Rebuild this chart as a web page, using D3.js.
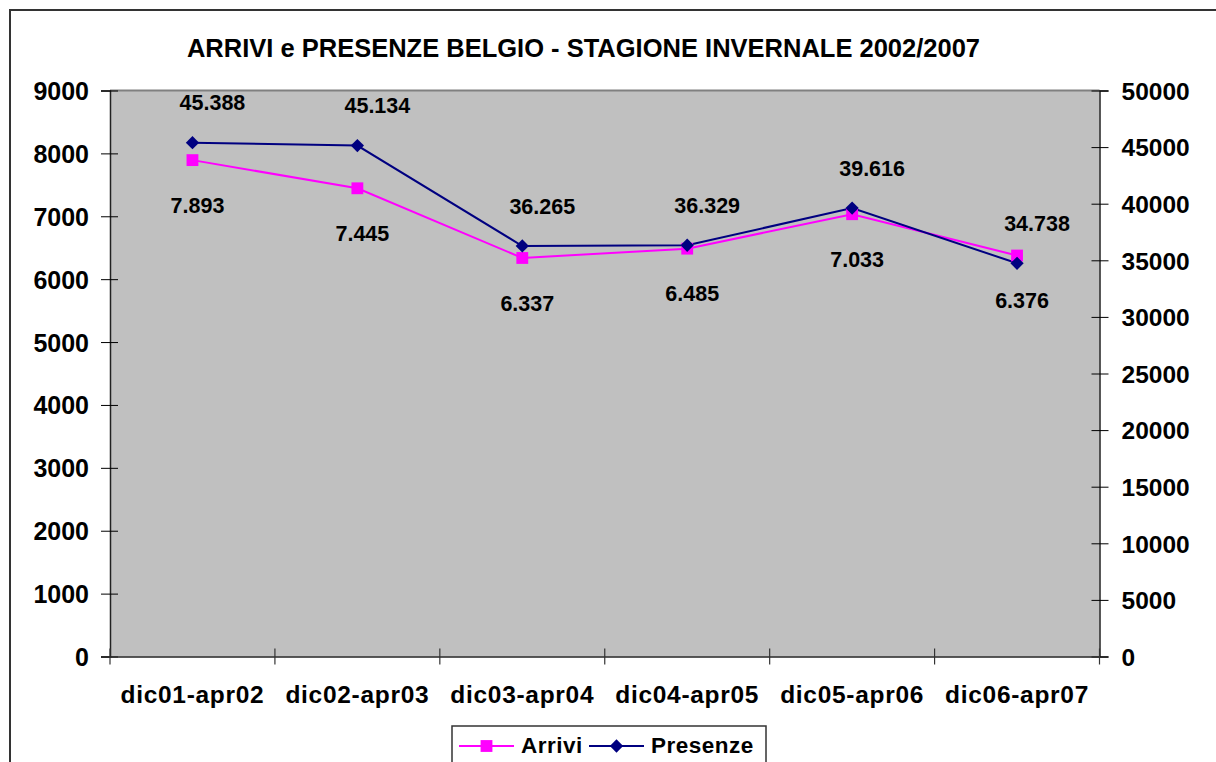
<!DOCTYPE html>
<html>
<head>
<meta charset="utf-8">
<script src="https://cdn.jsdelivr.net/npm/d3@7"></script>
<style>
  html, body { margin: 0; padding: 0; background: #fff; }
  svg { display: block; font-family: "Liberation Sans", Arial, sans-serif; font-weight: bold; }
</style>
</head>
<body>
<div id="chart"></div>
<script>
// data
const categories = ["dic01-apr02", "dic02-apr03", "dic03-apr04", "dic04-apr05", "dic05-apr06", "dic06-apr07"];
const arrivi = [7893, 7445, 6337, 6485, 7033, 6376];
const presenze = [45388, 45134, 36265, 36329, 39616, 34738];
const left_ticks = [0, 1000, 2000, 3000, 4000, 5000, 6000, 7000, 8000, 9000];
const right_ticks = [0, 5000, 10000, 15000, 20000, 25000, 30000, 35000, 40000, 45000, 50000];
const title = "ARRIVI e PRESENZE BELGIO - STAGIONE INVERNALE 2002/2007";

const __CONFIG__ = {
  width: 1216,
  height: 762,
  plot: {x0: 110, x1: 1099.5, y0: 90.5, y1: 656.5},
  bg: "#c0c0c0",
  arrivi_color: "#ff00ff",
  presenze_color: "#000080"
};

const it_fmt = d3.formatLocale({decimal: ",", thousands: ".", grouping: [3], currency: ["", "€"]}).format(",");

function draw(config=__CONFIG__) {
  const p = config.plot;
  const svg = d3.select("#chart").append("svg")
    .attr("width", config.width)
    .attr("height", config.height);

  // chart frame (runs off the right/bottom like the original)
  svg.append("rect")
    .attr("x", 10).attr("y", 10)
    .attr("width", 1300).attr("height", 900)
    .attr("fill", "#fff")
    .attr("stroke", "#333").attr("stroke-width", 2);

  svg.append("text")
    .attr("x", 583.5).attr("y", 56.5)
    .attr("text-anchor", "middle")
    .attr("font-size", 25.5)
    .text(title);

  const x = d3.scaleBand().domain(categories).range([p.x0, p.x1]).padding(0);
  const y_left = d3.scaleLinear().domain([0, 9000]).range([p.y1, p.y0]);
  const y_right = d3.scaleLinear().domain([0, 50000]).range([p.y1, p.y0]);
  const cx = c => x(c) + x.bandwidth() / 2;

  // plot area
  svg.append("rect")
    .attr("x", p.x0).attr("y", p.y0)
    .attr("width", p.x1 - p.x0).attr("height", p.y1 - p.y0)
    .attr("fill", config.bg);
  svg.append("line")
    .attr("x1", p.x0).attr("x2", p.x1)
    .attr("y1", p.y0).attr("y2", p.y0)
    .attr("stroke", "#808080").attr("stroke-width", 2);

  // left axis
  const g_left = svg.append("g")
    .attr("transform", `translate(${p.x0},0)`)
    .call(d3.axisLeft(y_left).tickValues(left_ticks).tickFormat(d3.format("d")).tickSizeOuter(0).tickSize(9).tickPadding(12));
  g_left.selectAll(".tick line").attr("x1", 8);
  g_left.selectAll(".tick text")
    .attr("font-size", 25).attr("dy", "0.36em").attr("fill", "#000");
  g_left.select(".domain").attr("stroke", "#222").attr("stroke-width", 1.5);

  // right axis
  const g_right = svg.append("g")
    .attr("transform", `translate(${p.x1},0)`)
    .call(d3.axisRight(y_right).tickValues(right_ticks).tickFormat(d3.format("d")).tickSizeOuter(0).tickSize(9).tickPadding(13));
  g_right.selectAll(".tick line").attr("x1", -8);
  g_right.selectAll(".tick text")
    .attr("font-size", 24.5).attr("dy", "0.36em").attr("fill", "#000");
  g_right.select(".domain").attr("stroke", "#222").attr("stroke-width", 1.5);

  // category axis, ticks between the categories
  const g_bottom = svg.append("g")
    .attr("transform", `translate(0,${p.y1})`)
    .call(d3.axisBottom(x).tickSize(0).tickSizeOuter(0));
  g_bottom.select(".domain").attr("stroke", "#222").attr("stroke-width", 1.5);
  g_bottom.selectAll(".tick text")
    .attr("font-size", 24.5).attr("letter-spacing", 0.7)
    .attr("y", 46.5).attr("dy", 0).attr("fill", "#000");
  const edges = categories.map(c => x(c)).concat([x(categories[categories.length - 1]) + x.bandwidth()]);
  g_bottom.selectAll("line.sep")
    .data(edges)
    .join("line")
    .classed("sep", true)
    .attr("x1", d => d).attr("x2", d => d)
    .attr("y1", -8).attr("y2", 8)
    .attr("stroke", "#333").attr("stroke-width", 1.2);

  // series
  const line_arrivi = d3.line().x((d, i) => cx(categories[i])).y(d => y_left(d));
  const line_presenze = d3.line().x((d, i) => cx(categories[i])).y(d => y_right(d));

  svg.append("path")
    .datum(arrivi)
    .attr("d", line_arrivi)
    .attr("fill", "none").attr("stroke", config.arrivi_color).attr("stroke-width", 2);
  svg.append("path")
    .datum(presenze)
    .attr("d", line_presenze)
    .attr("fill", "none").attr("stroke", config.presenze_color).attr("stroke-width", 2);

  // square marker, and a square turned 45deg for the diamond
  const square = d3.symbol().type(d3.symbolSquare).size(140);
  const diamond = d3.symbol().type(d3.symbolSquare).size(88);

  svg.selectAll("path.m_arrivi")
    .data(arrivi)
    .join("path")
    .classed("m_arrivi", true)
    .attr("d", square)
    .attr("transform", (d, i) => `translate(${cx(categories[i])},${y_left(d)})`)
    .attr("fill", config.arrivi_color);
  svg.selectAll("path.m_presenze")
    .data(presenze)
    .join("path")
    .classed("m_presenze", true)
    .attr("d", diamond)
    .attr("transform", (d, i) => `translate(${cx(categories[i])},${y_right(d)}) rotate(45)`)
    .attr("fill", config.presenze_color);

  // data labels
  svg.selectAll("text.l_presenze")
    .data(presenze)
    .join("text")
    .classed("l_presenze", true)
    .attr("x", (d, i) => cx(categories[i]) + 20)
    .attr("y", d => y_right(d) - 40)
    .attr("dy", "0.36em")
    .attr("text-anchor", "middle")
    .attr("font-size", 21.5)
    .text(d => it_fmt(d));
  svg.selectAll("text.l_arrivi")
    .data(arrivi)
    .join("text")
    .classed("l_arrivi", true)
    .attr("x", (d, i) => cx(categories[i]) + 5)
    .attr("y", d => y_left(d) + 45)
    .attr("dy", "0.36em")
    .attr("text-anchor", "middle")
    .attr("font-size", 21.5)
    .text(d => it_fmt(d));

  // legend (cut off at the bottom edge, as in the original)
  const legend = svg.append("g").attr("transform", "translate(452,726)");
  legend.append("rect")
    .attr("width", 314).attr("height", 60)
    .attr("fill", "#fff").attr("stroke", "#333").attr("stroke-width", 1.5);
  const items = [
    {name: "Arrivi", color: config.arrivi_color, sym: square, rot: 0, x: 7, tx: 69},
    {name: "Presenze", color: config.presenze_color, sym: diamond, rot: 45, x: 137, tx: 199}
  ];
  items.forEach(it => {
    legend.append("line")
      .attr("x1", it.x).attr("x2", it.x + 55)
      .attr("y1", 20).attr("y2", 20)
      .attr("stroke", it.color).attr("stroke-width", 2);
    legend.append("path")
      .attr("d", it.sym)
      .attr("transform", `translate(${it.x + 27.5},20) rotate(${it.rot})`)
      .attr("fill", it.color);
    legend.append("text")
      .attr("x", it.tx).attr("y", 27)
      .attr("font-size", 22.5).attr("letter-spacing", 0.5)
      .text(it.name);
  });
}

draw();
</script>
</body>
</html>
